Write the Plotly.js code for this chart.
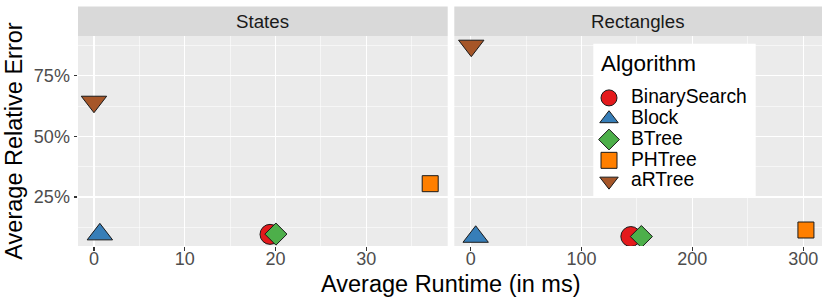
<!DOCTYPE html>
<html>
<head>
<meta charset="utf-8">
<script src="https://cdn.plot.ly/plotly-3.0.1.min.js"></script>
<style>html,body{margin:0;padding:0;background:#fff;}#chart{width:830px;height:305px;}</style>
</head>
<body>
<div id="chart"></div>
<script>
const algorithms = ['BinarySearch', 'Block', 'BTree', 'PHTree', 'aRTree'];
const statesRuntime = [19.4, 0.65, 20.05, 37.05, 0.0];
const statesError = [0.096, 0.096, 0.097, 0.305, 0.643];
const rectRuntime = [144.5, 4.5, 154, 302.5, 0.5];
const rectError = [0.087, 0.086, 0.087, 0.114, 0.874];
const panelNames = ['States', 'Rectangles'];
const yTickVals = [0.25, 0.5, 0.75];
const legendTitle = 'Algorithm';
const colors = ['#E41A1C', '#377EB8', '#4DAF4A', '#FF7F00', '#A65628'];
const symbols = ['circle', 'triangle-up', 'diamond', 'square', 'triangle-down'];
const sizes = [20, 22, 17, 16, 22];

const FONT = 'Liberation Sans, Arial, Helvetica, sans-serif';
const traces = [];
algorithms.forEach((a, i) => {
  traces.push({
    x: [statesRuntime[i]], y: [statesError[i]],
    name: '<span style="font-size:19.3px">' + a + '</span>', legendgroup: a,
    type: 'scatter', mode: 'markers', xaxis: 'x', yaxis: 'y',
    marker: {color: colors[i], symbol: symbols[i], size: sizes[i], line: {color: '#1a1a1a', width: 1}}
  });
});
algorithms.forEach((a, i) => {
  traces.push({
    x: [rectRuntime[i]], y: [rectError[i]], name: a, legendgroup: a, showlegend: false,
    type: 'scatter', mode: 'markers', xaxis: 'x2', yaxis: 'y2',
    marker: {color: colors[i], symbol: symbols[i], size: sizes[i], line: {color: '#1a1a1a', width: 1}}
  });
});

const W = 830, H = 305, ml = 78, mr = 8, mt = 36, mb = 59;
const pw = W - ml - mr, ph = H - mt - mb;
const px2x = p => (p - ml) / pw;
const px2y = p => (mt + ph - p) / ph;
const d1 = [0, px2x(447.7)];
const d2 = [px2x(454.3), 1];
const stripH = 29.4 / ph;

const tickFont = {family: FONT, size: 18, color: '#4D4D4D'};
const minorGrid = {showgrid: true, gridcolor: '#FFFFFF', gridwidth: 0.55, ticks: ''};
const gridCommon = {
  showgrid: true, gridcolor: '#FFFFFF', gridwidth: 1.1, zeroline: false,
  ticks: 'outside', ticklen: 3.5, tickwidth: 1.1, tickcolor: '#333333',
  showline: false, tickfont: tickFont
};

const layout = {
  width: W, height: H,
  margin: {l: ml, r: mr, t: mt, b: mb, pad: 0},
  paper_bgcolor: '#FFFFFF', plot_bgcolor: '#EBEBEB',
  font: {family: FONT},
  showlegend: true,
  xaxis: Object.assign({}, gridCommon, {
    domain: d1, range: [-1.76, 38.98], tick0: 0, dtick: 10,
    minor: Object.assign({dtick: 5}, minorGrid),
    ticklabelstandoff: -7, anchor: 'y'
  }),
  xaxis2: Object.assign({}, gridCommon, {
    domain: d2, range: [-14.8, 317], tick0: 0, dtick: 100,
    minor: Object.assign({dtick: 50}, minorGrid),
    ticklabelstandoff: -7, anchor: 'y2'
  }),
  yaxis: Object.assign({}, gridCommon, {
    domain: [0, 1], range: [0.048, 0.914], tickformat: '.0%',
    tickmode: 'array', tickvals: yTickVals,
    minor: Object.assign({tickmode: 'array', tickvals: [0.125, 0.375, 0.625, 0.875]}, minorGrid),
    anchor: 'x',
    title: {text: 'Average Relative Error', font: {family: FONT, size: 23.5, color: '#000'}, standoff: 4}
  }),
  yaxis2: Object.assign({}, gridCommon, {
    domain: [0, 1], range: [0.048, 0.914], tickmode: 'array', tickvals: yTickVals,
    minor: Object.assign({tickmode: 'array', tickvals: [0.125, 0.375, 0.625, 0.875]}, minorGrid),
    showticklabels: false, ticks: '', anchor: 'x2', matches: 'y'
  }),
  shapes: [
    {type: 'rect', xref: 'paper', yref: 'paper', x0: d1[0], x1: d1[1], y0: 1, y1: 1 + stripH, fillcolor: '#D9D9D9', line: {width: 0}, layer: 'below'},
    {type: 'rect', xref: 'paper', yref: 'paper', x0: d2[0], x1: d2[1], y0: 1, y1: 1 + stripH, fillcolor: '#D9D9D9', line: {width: 0}, layer: 'below'},
    {type: 'rect', xref: 'paper', yref: 'paper', x0: px2x(593.3), x1: px2x(755.7), y0: px2y(196.7), y1: px2y(43.7), fillcolor: '#FFFFFF', line: {width: 0}, layer: 'above'}
  ],
  annotations: [
    {text: panelNames[0], xref: 'paper', yref: 'paper', x: (d1[0] + d1[1]) / 2, y: 1 + stripH / 2, showarrow: false, xanchor: 'center', yanchor: 'middle', font: {family: FONT, size: 18.7, color: '#1A1A1A'}},
    {text: panelNames[1], xref: 'paper', yref: 'paper', x: (d2[0] + d2[1]) / 2, y: 1 + stripH / 2, showarrow: false, xanchor: 'center', yanchor: 'middle', font: {family: FONT, size: 18.7, color: '#1A1A1A'}},
    {text: 'Average Runtime (in ms)', xref: 'paper', yref: 'paper', x: 0.5, y: px2y(284), showarrow: false, xanchor: 'center', yanchor: 'middle', font: {family: FONT, size: 23.5, color: '#000'}},
    {text: legendTitle, xref: 'paper', yref: 'paper', x: px2x(599), y: px2y(63), showarrow: false, xanchor: 'left', yanchor: 'middle', font: {family: FONT, size: 22.5, color: '#000'}}
  ],
  legend: {
    x: px2x(587), y: px2y(82.5), xanchor: 'left', yanchor: 'top',
    bgcolor: 'rgba(0,0,0,0)', borderwidth: 0,
    font: {family: FONT, size: 13.7, color: '#000'},
    traceorder: 'normal', tracegroupgap: 0, itemwidth: 34
  }
};

Plotly.newPlot('chart', traces, layout, {displayModeBar: false, staticPlot: true});
</script>
</body>
</html>
